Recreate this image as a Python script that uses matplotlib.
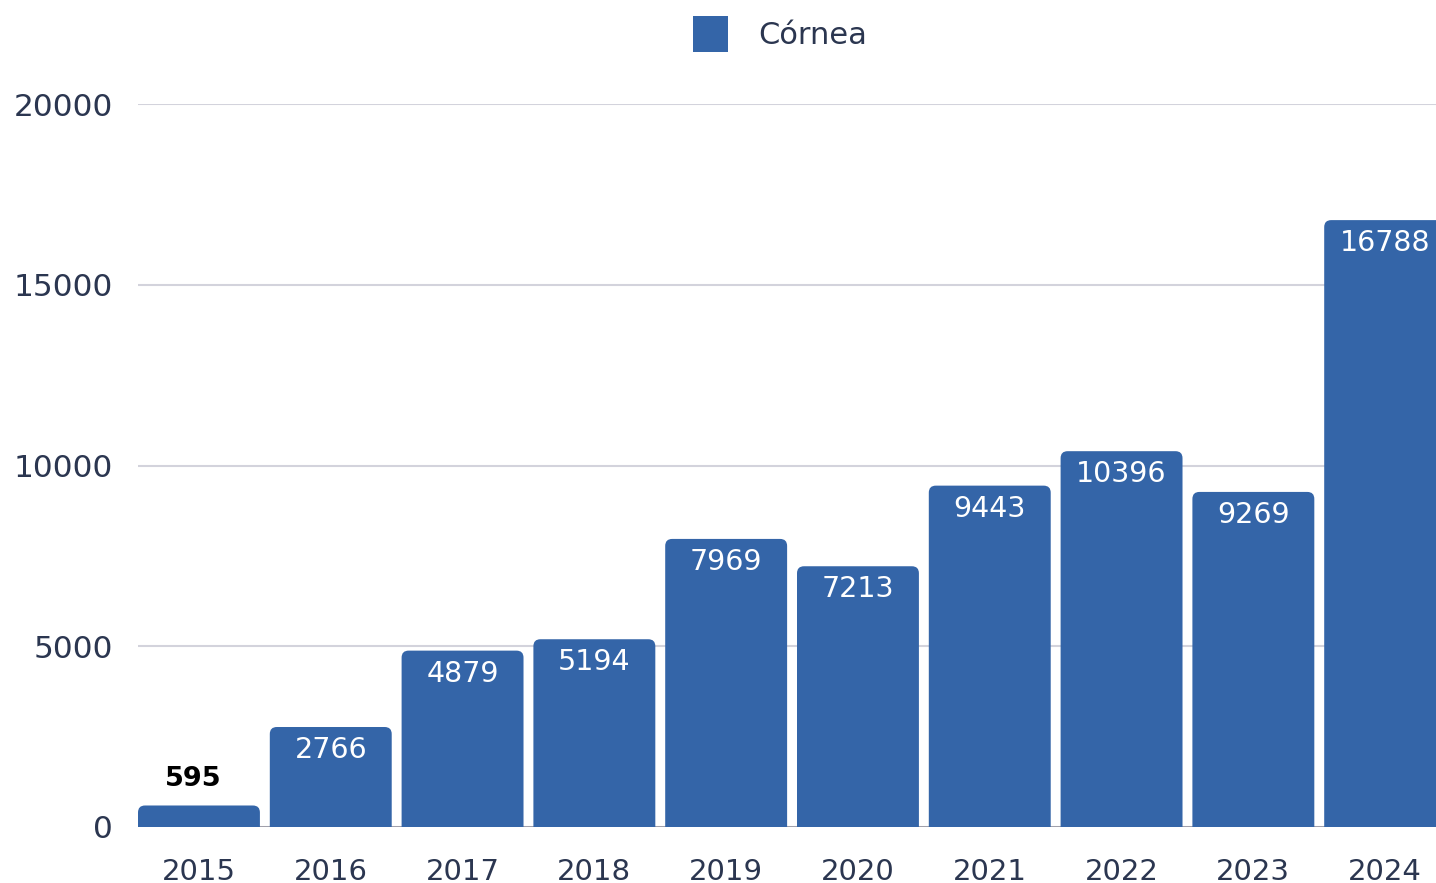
import matplotlib
matplotlib.use("Agg")
import matplotlib.pyplot as plt
from matplotlib.patches import FancyBboxPatch

years = ["2015", "2016", "2017", "2018", "2019", "2020", "2021", "2022", "2023", "2024"]
cornea = [595, 2766, 4879, 5194, 7969, 7213, 9443, 10396, 9269, 16788]
yticks = [0, 5000, 10000, 15000, 20000]
series_name = "Córnea"

BAR = "#3465a8"
TXT = "#2b3650"
GRID = "#d3d3dc"

plt.rcParams['font.family'] = ['DejaVu Sans']

fig = plt.figure(figsize=(14.36, 8.83), dpi=100)
ax = fig.add_axes([138/1436, 1 - 827/883, 1 - 138/1436, (827 - 104)/883])

width = 0.925
left = -width/2
cat_px = 131.8
right = left + 1298/cat_px
ax.set_xlim(left, right)
ax.set_ylim(0, 20000)

y_per_px = 20000/(827 - 104)
x_per_px = 1/cat_px
aspect = y_per_px/x_per_px
r = 7*x_per_px

for i, v in enumerate(cornea):
    ext = 400
    p = FancyBboxPatch((i - width/2, -ext), width, v + ext,
                       boxstyle=f"round,pad=0,rounding_size={r}",
                       mutation_aspect=aspect, facecolor=BAR, edgecolor="none",
                       zorder=3, clip_on=True)
    ax.add_patch(p)
    if v < 1500:
        ax.text(i - 0.04, v + 26*y_per_px, f"{v}", ha="center", va="center",
                fontsize=19.5, fontweight="bold", color="black", zorder=4)
    else:
        ax.text(i, v - 23*y_per_px, f"{v}", ha="center", va="center",
                fontsize=20.5, color="white", zorder=4)

ax.set_yticks(yticks)
ax.set_yticklabels([str(t) for t in yticks])
ax.set_xticks(range(len(years)))
ax.set_xticklabels(years)
ax.tick_params(axis="both", length=0, colors=TXT)
ax.tick_params(axis="y", pad=18, labelsize=22.5)
ax.tick_params(axis="x", pad=22, labelsize=21)
for s in ax.spines.values():
    s.set_visible(False)
ax.grid(axis="y", color=GRID, linewidth=1.5, zorder=0)
ax.axhline(0, color="#9a9aa6", linewidth=2, zorder=1)
ax.set_axisbelow(True)

handle = plt.Rectangle((0, 0), 1, 1, facecolor=BAR)
fig.legend([handle], [series_name], loc="center", bbox_to_anchor=(780/1436, 1 - 34/883),
           frameon=False, fontsize=22, handlelength=1.15, handleheight=1.4,
           handletextpad=1.0, labelcolor=TXT)

fig.savefig("out.png", dpi=100)
